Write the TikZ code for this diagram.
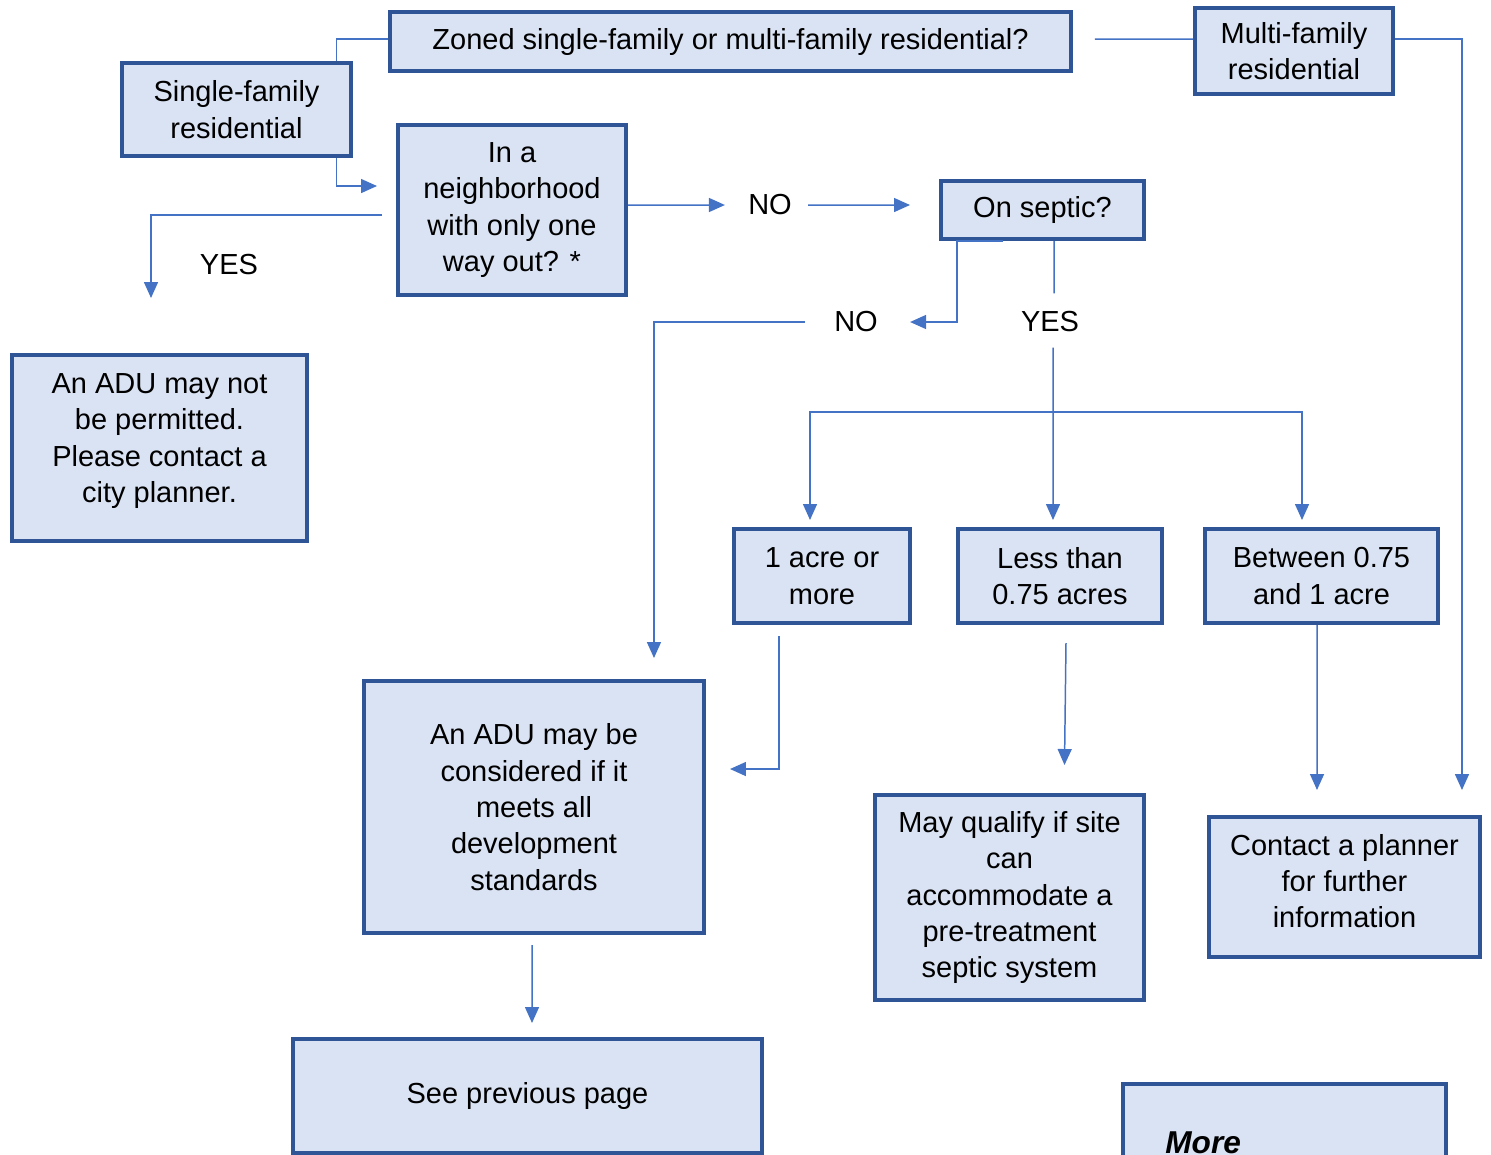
\documentclass[tikz,border=0pt]{standalone}
\usepackage{fontspec}
\setmainfont{Liberation Sans}
\usepackage{xcolor}
\definecolor{fl}{HTML}{DAE3F3}
\definecolor{bd}{HTML}{2F5597}
\definecolor{ln}{HTML}{4472C4}
\usepackage{tikz}
\usetikzlibrary{arrows.meta}

\begin{document}
\begin{tikzpicture}[x=0.02cm,y=-0.02cm,
    font=\fontsize{16.5}{20.7}\selectfont,
    qbox/.style={draw=bd,fill=fl,line width=2.3pt,align=center,inner sep=0pt},
    wire/.style={ln,line width=0.85pt},
    arr/.style={wire,-{Triangle[length=0.32cm,width=0.28cm]}},
    lbl/.style={inner sep=0pt}]
    \clip (0,0) rectangle (1491,1154);

    \node [qbox,minimum width=13.62cm,minimum height=1.18cm] (zoned) at (730.5,41.5) {Zoned single-family or multi-family residential?};
    \node [qbox,minimum width=4.58cm,minimum height=1.86cm] (single) at (236.5,109.5) {Single-family\\residential};
    \node [qbox,minimum width=3.96cm,minimum height=1.72cm] (multi) at (1294,51) {Multi-family\\residential};
    \node [qbox,minimum width=4.56cm,minimum height=3.4cm] (neigh) at (512,210) {In a\\neighborhood\\with only one\\way out? *};
    \node [qbox,minimum width=4.06cm,minimum height=1.16cm] (septic) at (1042.5,210) {On septic?};
    \node [qbox,minimum width=5.9cm,minimum height=3.72cm,text depth=0.4cm] (notperm) at (159.5,448) {An ADU may not\\be permitted.\\Please contact a\\city planner.};
    \node [qbox,minimum width=3.52cm,minimum height=1.88cm] (acre1) at (822,576) {1 acre or\\more};
    \node [qbox,minimum width=4.08cm,minimum height=1.88cm] (less) at (1060,576) {Less than\\0.75 acres};
    \node [qbox,minimum width=4.66cm,minimum height=1.88cm] (between) at (1321.5,576) {Between 0.75\\and 1 acre};
    \node [qbox,minimum width=6.8cm,minimum height=5.04cm] (mayconsider) at (534,807) {An ADU may be\\considered if it\\meets all\\development\\standards};
    \node [qbox,minimum width=5.38cm,minimum height=4.1cm] (mayqualify) at (1009.5,897.5) {May qualify if site\\can\\accommodate a\\pre-treatment\\septic system};
    \node [qbox,minimum width=5.42cm,minimum height=2.8cm,text depth=0.24cm] (contact) at (1344.5,887) {Contact a planner\\for further\\information};
    \node [qbox,minimum width=9.38cm,minimum height=2.28cm] (seeprev) at (527.5,1096) {See previous page};
    \node [qbox,minimum width=6.46cm,minimum height=4cm] (more) at (1284.5,1184) {};
    \node [lbl,anchor=base west,font=\fontsize{18}{21}\selectfont\bfseries\itshape] (moretxt) at (1165,1153) {More};

    \node [lbl] (no1) at (770,205) {NO};
    \node [lbl] (yes1) at (229,265) {YES};
    \node [lbl] (no2) at (856,322) {NO};
    \node [lbl] (yes2) at (1050,322) {YES};

    \draw [wire] ([yshift=0.05cm]zoned.west) -| ([xshift=2cm]single.north);
    \draw [wire] ([xshift=0.44cm,yshift=0.05cm]zoned.east) -- ([yshift=0.24cm]multi.west);
    \draw [arr] ([xshift=2cm]single.south) |- ([xshift=-0.38cm,yshift=0.48cm]neigh.west);
    \draw [arr] ([xshift=-0.28cm,yshift=-0.1cm]neigh.west) -| ([xshift=-0.17cm,yshift=1.1cm]notperm.north);
    \draw [arr] ([yshift=0.1cm]neigh.east) -- ([xshift=-0.46cm]no1.west);
    \draw [arr] ([xshift=0.32cm]no1.east) -- ([xshift=-0.58cm,yshift=0.1cm]septic.west);
    \draw [arr] ([xshift=-0.79cm]septic.south) -- ++(-46,0) |- ([xshift=0.64cm]no2.east);
    \draw [arr] ([xshift=-0.58cm]no2.west) -| ([xshift=2.4cm,yshift=0.42cm]mayconsider.north);
    \draw [wire] ([xshift=0.23cm]septic.south) -- ([xshift=0.08cm,yshift=0.36cm]yes2.north);
    \coordinate (split) at (1053,412);
    \draw [wire] ([xshift=0.06cm,yshift=-0.3cm]yes2.south) -- (split);
    \draw [arr] (split) -- ([xshift=-0.14cm,yshift=0.14cm]less.north);
    \draw [arr] (split) -| ([xshift=-0.24cm,yshift=0.14cm]acre1.north);
    \draw [arr] (split) -| ([xshift=-0.39cm,yshift=0.14cm]between.north);
    \draw [arr] ([xshift=-0.86cm,yshift=-0.22cm]acre1.south) |- ([xshift=0.48cm,yshift=0.76cm]mayconsider.east);
    \draw [arr] ([xshift=0.12cm,yshift=-0.36cm]less.south) -- ([xshift=1.1cm,yshift=0.56cm]mayqualify.north);
    \draw [arr] ([xshift=-0.09cm]between.south) -- ([xshift=-0.55cm,yshift=0.5cm]contact.north);
    \draw [arr] ([yshift=0.24cm]multi.east) -| ([xshift=2.35cm,yshift=0.5cm]contact.north);
    \draw [arr] ([xshift=-0.04cm,yshift=-0.2cm]mayconsider.south) -- ([xshift=0.09cm,yshift=0.28cm]seeprev.north);
\end{tikzpicture}
\end{document}
